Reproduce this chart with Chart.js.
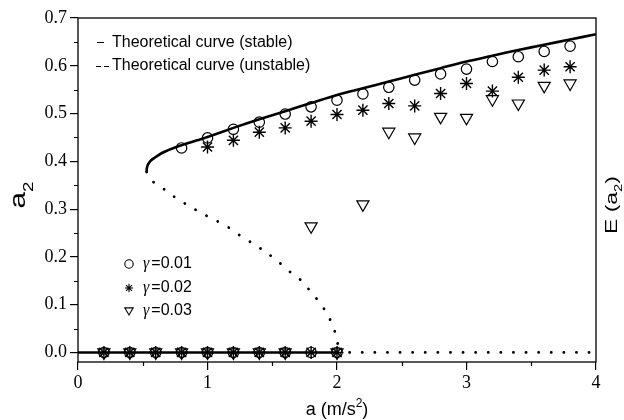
<!DOCTYPE html>
<html>
<head>
<meta charset="utf-8">
<script src="https://cdn.jsdelivr.net/npm/chart.js@4/dist/chart.umd.min.js"></script>
<style>
  html, body { margin: 0; padding: 0; background: #fff; }
  #wrap { width: 624px; height: 420px; }
</style>
</head>
<body>
<div id="wrap"><canvas id="chart" width="624" height="420"></canvas></div>
<script>
// theoretical curves
const stableX = [0.53, 0.532, 0.54, 0.56, 0.6, 0.66, 0.76, 0.92, 1.0, 1.2, 1.4, 1.6, 1.8, 2.0, 2.2, 2.4, 2.6, 2.8, 3.0, 3.2, 3.4, 3.6, 3.8, 4.0];
const stableY = [0.378, 0.386, 0.393, 0.401, 0.409, 0.419, 0.430, 0.444, 0.451, 0.470, 0.488, 0.505, 0.522, 0.539, 0.553, 0.567, 0.581, 0.595, 0.609, 0.621, 0.633, 0.644, 0.655, 0.666];
const unstableX = [0.53, 0.55, 0.595, 0.697, 0.762, 0.85, 0.955, 1.06, 1.16, 1.25, 1.35, 1.45, 1.55, 1.64, 1.73, 1.80, 1.87, 1.93, 1.97, 2.0, 2.01];
const unstableY = [0.378, 0.365, 0.354, 0.336, 0.322, 0.308, 0.291, 0.277, 0.262, 0.245, 0.228, 0.210, 0.189, 0.168, 0.149, 0.126, 0.103, 0.078, 0.053, 0.029, 0.0];
const zeroStableX = [0, 2];
const zeroUnstableX = [2, 4];

// measured points
const zeroX = [0.2, 0.4, 0.6, 0.8, 1.0, 1.2, 1.4, 1.6, 1.8, 2.0];
const zeroTriX = [0.2, 0.4, 0.6, 0.8, 1.0, 1.2, 1.4, 1.6, 2.0];
const g1X = [0.8, 1.0, 1.2, 1.4, 1.6, 1.8, 2.0, 2.2, 2.4, 2.6, 2.8, 3.0, 3.2, 3.4, 3.6, 3.8];
const g1Y = [0.428, 0.449, 0.467, 0.482, 0.499, 0.514, 0.528, 0.541, 0.555, 0.570, 0.583, 0.593, 0.609, 0.619, 0.630, 0.641];
const g2X = [1.0, 1.2, 1.4, 1.6, 1.8, 2.0, 2.2, 2.4, 2.6, 2.8, 3.0, 3.2, 3.4, 3.6, 3.8];
const g2Y = [0.430, 0.444, 0.461, 0.470, 0.484, 0.498, 0.507, 0.521, 0.516, 0.542, 0.563, 0.547, 0.576, 0.591, 0.598];
const g3X = [1.8, 2.2, 2.4, 2.6, 2.8, 3.0, 3.2, 3.4, 3.6, 3.8];
const g3Y = [0.264, 0.310, 0.462, 0.450, 0.493, 0.491, 0.530, 0.521, 0.558, 0.563];

const xTicks = [0, 1, 2, 3, 4];
const yTicks = [0.0, 0.1, 0.2, 0.3, 0.4, 0.5, 0.6, 0.7];
const xMinor = [0.5, 1.5, 2.5, 3.5];
const yMinor = [0.05, 0.15, 0.25, 0.35, 0.45, 0.55, 0.65];

const legendLines = ['Theoretical curve (stable)', 'Theoretical curve (unstable)'];
const legendGamma = ['=0.01', '=0.02', '=0.03'];

function pts(xs, ys) {
    return xs.map((x, i) => ({ x: x, y: ys ? ys[i] : 0 }));
}

const SANS = '"Liberation Sans", Arial, sans-serif';
const SERIF = '"Liberation Serif", "Times New Roman", serif';

function drawMarker(ctx, kind, x, y, r) {
    ctx.beginPath();
    if (kind === 'circle') {
        ctx.arc(x, y, r, 0, Math.PI * 2);
    } else if (kind === 'star') {
        for (let k = 0; k < 4; k++) {
            const a = k * Math.PI / 4;
            ctx.moveTo(x - r * Math.cos(a), y - r * Math.sin(a));
            ctx.lineTo(x + r * Math.cos(a), y + r * Math.sin(a));
        }
    } else {
        ctx.moveTo(x - r, y - r * 0.75);
        ctx.lineTo(x + r, y - r * 0.75);
        ctx.lineTo(x, y + r * 0.95);
        ctx.closePath();
    }
    ctx.stroke();
}

// text with a raised / lowered "2" in the middle, centred on x
function drawWithIndex(ctx, before, idx, after, x, y, size, shift) {
    const small = Math.round(size * 0.65);
    ctx.font = size + 'px ' + SANS;
    const w1 = ctx.measureText(before).width;
    const w3 = ctx.measureText(after).width;
    ctx.font = small + 'px ' + SANS;
    const w2 = ctx.measureText(idx).width;
    let sx = x - (w1 + w2 + w3) / 2;
    ctx.font = size + 'px ' + SANS;
    ctx.fillText(before, sx, y);
    ctx.font = small + 'px ' + SANS;
    ctx.fillText(idx, sx + w1, y + shift);
    ctx.font = size + 'px ' + SANS;
    ctx.fillText(after, sx + w1 + w2, y);
}

// frame, minor ticks, axis titles and the two legends
const decorations = {
    id: 'decorations',
    afterDraw(chart) {
        const ctx = chart.ctx;
        const area = chart.chartArea;
        const xs = chart.scales.x, ys = chart.scales.y;
        ctx.save();
        ctx.strokeStyle = '#000';
        ctx.fillStyle = '#000';
        ctx.lineWidth = 1.3;
        ctx.strokeRect(area.left, area.top, area.right - area.left, area.bottom - area.top);

        ctx.lineWidth = 1.2;
        ctx.beginPath();
        xMinor.forEach(v => {
            const px = Math.round(xs.getPixelForValue(v)) + 0.5;
            ctx.moveTo(px, area.bottom);
            ctx.lineTo(px, area.bottom + 4);
        });
        yMinor.forEach(v => {
            const py = Math.round(ys.getPixelForValue(v)) + 0.5;
            ctx.moveTo(area.left, py);
            ctx.lineTo(area.left - 4, py);
        });
        ctx.stroke();

        ctx.textBaseline = 'alphabetic';
        ctx.textAlign = 'left';

        // x title: a (m/s²)
        drawWithIndex(ctx, 'a (m/s', '2', ')', (area.left + area.right) / 2, 415, 18, -8);

        // left title: a₂ (glyphs are drawn a bit wide, like the original)
        ctx.save();
        ctx.translate(25, 195);
        ctx.rotate(-Math.PI / 2);
        ctx.scale(1.35, 1);
        drawWithIndex(ctx, 'a', '2', '', 0, 0, 22, 8);
        ctx.restore();

        // right title: E (a₂)
        ctx.save();
        ctx.translate(617, 205);
        ctx.rotate(-Math.PI / 2);
        ctx.scale(1.35, 1);
        drawWithIndex(ctx, 'E (a', '2', ')', 0, 0, 17, 5);
        ctx.restore();

        // legend for the theoretical curves
        ctx.textBaseline = 'middle';
        ctx.font = '16px ' + SANS;
        ctx.lineWidth = 1.2;
        ctx.beginPath();
        ctx.moveTo(97, 42.5); ctx.lineTo(104, 42.5);
        ctx.moveTo(96, 66.5); ctx.lineTo(101, 66.5);
        ctx.moveTo(104, 66.5); ctx.lineTo(109, 66.5);
        ctx.stroke();
        ctx.fillText(legendLines[0], 112, 43);
        ctx.fillText(legendLines[1], 112, 66);

        // legend for the measurements
        const kinds = ['circle', 'star', 'tri'];
        const rowsY = [264, 288, 311];
        kinds.forEach((k, i) => {
            ctx.lineWidth = 1.1;
            drawMarker(ctx, k, 129, rowsY[i], 4.2);
            ctx.font = 'italic 16px ' + SERIF;
            ctx.fillText('\u03b3', 143, rowsY[i]);
            const wg = ctx.measureText('\u03b3').width;
            ctx.font = '16px ' + SANS;
            ctx.fillText(legendGamma[i], 144 + wg + 1, rowsY[i]);
        });
        ctx.restore();
    }
};

const lineBase = { showLine: true, pointRadius: 0, borderColor: '#000', fill: false };
const dotted = { borderDash: [0.1, 12.5], borderCapStyle: 'round', borderWidth: 2.8 };
const markBase = { showLine: false, borderColor: '#000', backgroundColor: 'rgba(0,0,0,0)', pointBorderWidth: 1.2 };

new Chart(document.getElementById('chart').getContext('2d'), {
    type: 'scatter',
    data: {
        datasets: [
            { ...markBase, label: 'g1', data: pts(g1X, g1Y).concat(pts(zeroX)), pointStyle: 'circle', pointRadius: 5.2 },
            { ...markBase, label: 'g2', data: pts(g2X, g2Y).concat(pts(zeroX)), pointStyle: 'star', pointRadius: 6.5, pointBorderWidth: 1.4 },
            { ...markBase, label: 'g3', data: pts(g3X, g3Y).concat(pts(zeroTriX)), pointStyle: 'triangle', rotation: 180, pointRadius: 7 },
            { ...lineBase, label: 'stable', data: pts(stableX, stableY), borderWidth: 2.6, tension: 0.35 },
            { ...lineBase, label: 'stable0', data: pts(zeroStableX), borderWidth: 2.6 },
            { ...lineBase, ...dotted, label: 'unstable', data: pts(unstableX, unstableY), tension: 0.3 },
            { ...lineBase, ...dotted, label: 'unstable0', data: pts(zeroUnstableX) }
        ]
    },
    options: {
        responsive: false,
        animation: false,
        devicePixelRatio: 1,
        layout: { padding: { top: 18, left: 0, right: 0, bottom: 0 } },
        plugins: { legend: { display: false }, tooltip: { enabled: false } },
        scales: {
            x: {
                type: 'linear', min: 0, max: 4,
                afterBuildTicks: s => { s.ticks = xTicks.map(v => ({ value: v })); },
                afterFit: s => { s.height = 58; },
                border: { display: false },
                grid: { drawOnChartArea: false, drawTicks: true, tickLength: 8, color: '#000', lineWidth: 1.2 },
                ticks: { color: '#000', font: { family: SERIF, size: 18 }, padding: 2, maxRotation: 0 }
            },
            y: {
                type: 'linear', min: -0.02, max: 0.7,
                afterBuildTicks: s => { s.ticks = yTicks.map(v => ({ value: v })); },
                afterFit: s => { s.width = 78; },
                border: { display: false },
                grid: { drawOnChartArea: false, drawTicks: true, tickLength: 8, color: '#000', lineWidth: 1.2 },
                ticks: { color: '#000', font: { family: SERIF, size: 18 }, padding: 3, callback: v => v.toFixed(1) }
            },
            y2: {
                type: 'linear', position: 'right', min: -0.02, max: 0.7,
                afterFit: s => { s.width = 28; },
                border: { display: false },
                grid: { display: false },
                ticks: { display: false }
            }
        }
    },
    plugins: [decorations]
});
</script>
</body>
</html>
